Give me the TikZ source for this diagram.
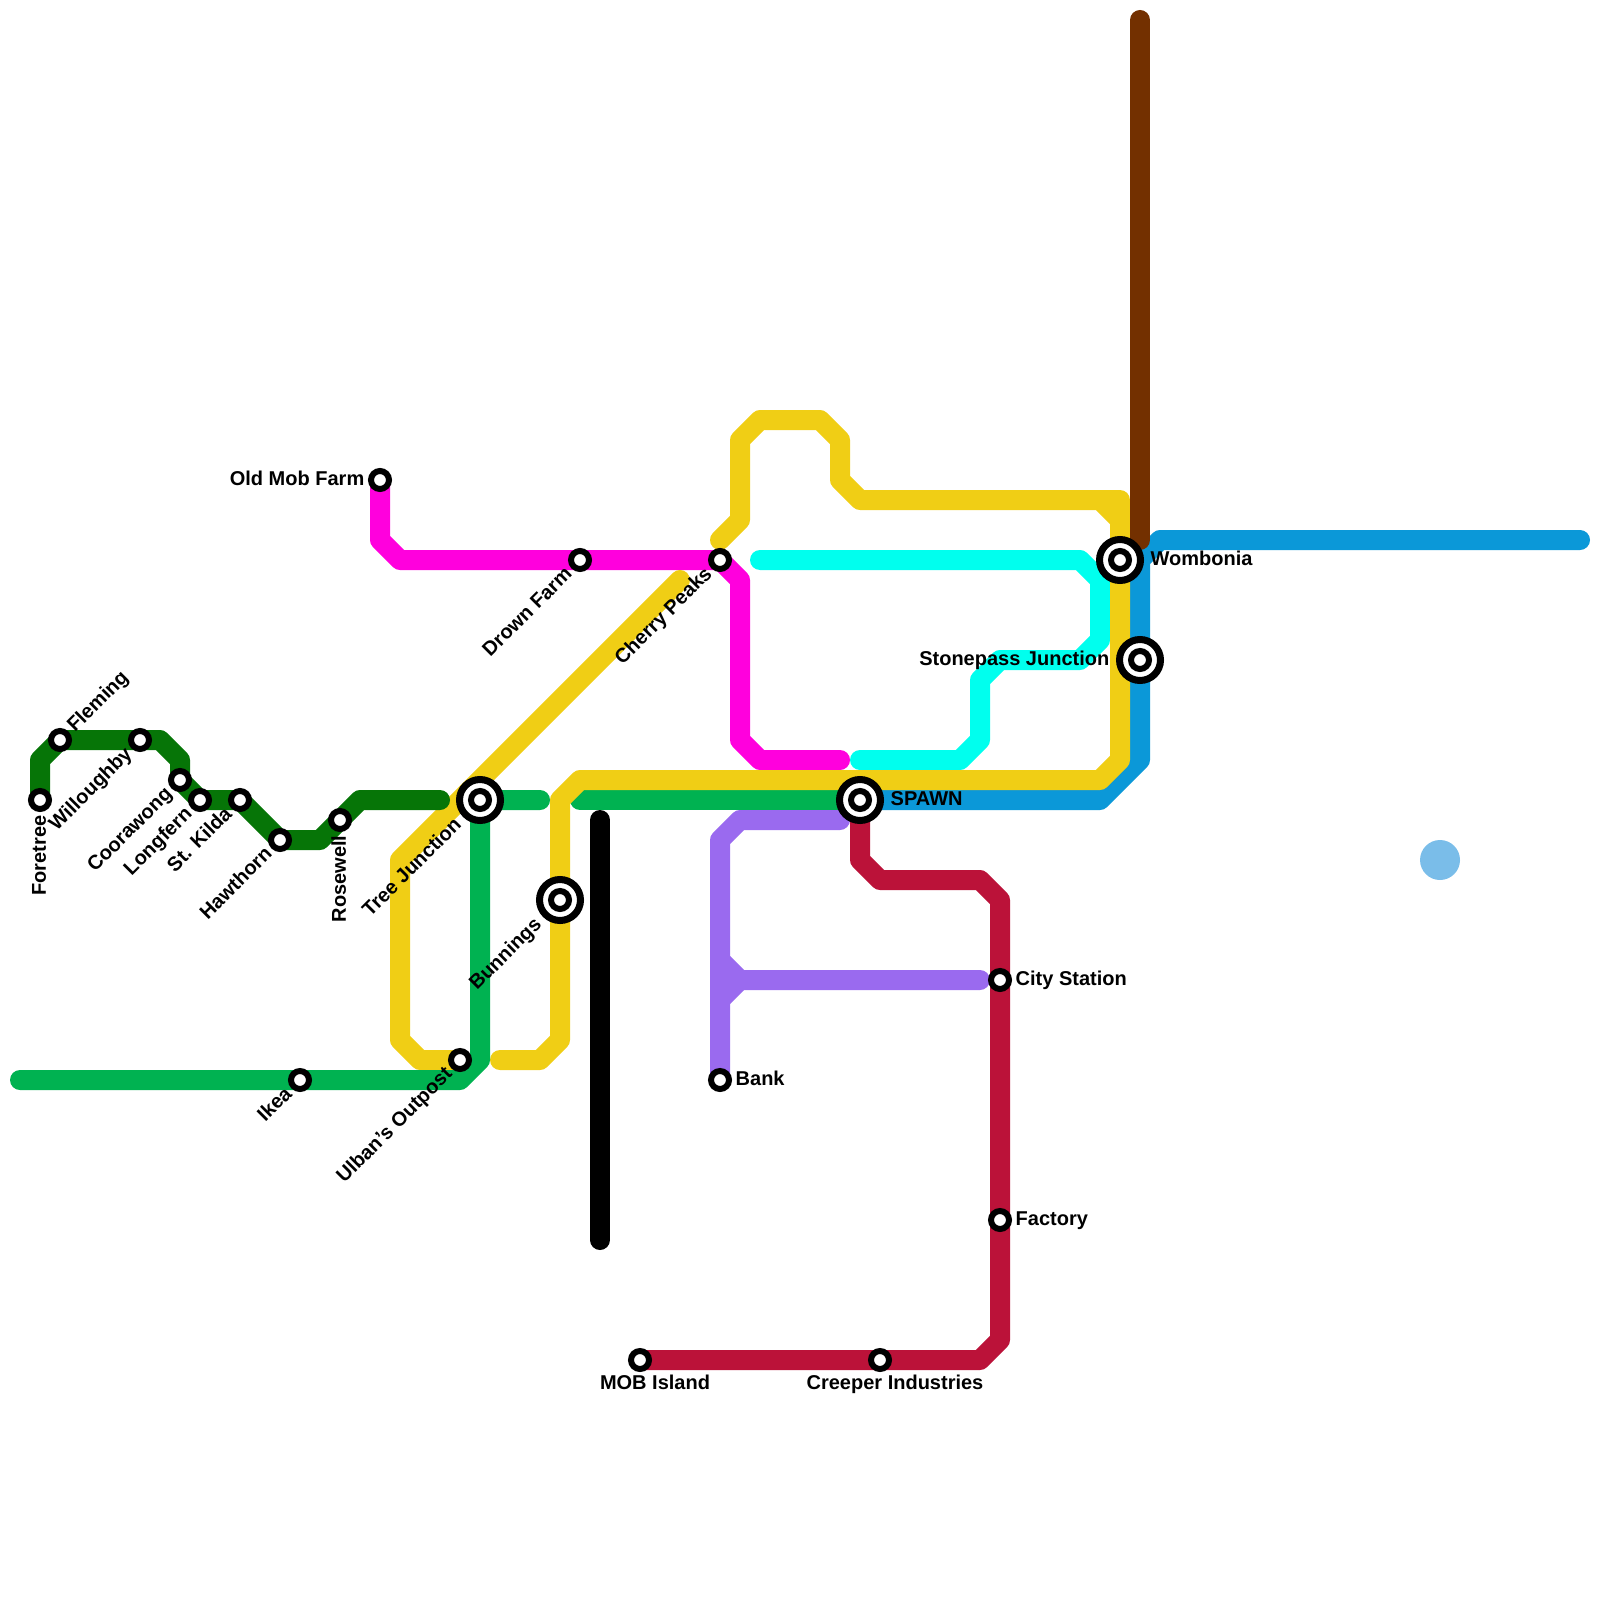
\documentclass[tikz,border=0pt]{standalone}
\usepackage{fontspec}
\setmainfont{Liberation Sans}
\usetikzlibrary{backgrounds}
\definecolor{darkgreenline}{HTML}{067507}
\definecolor{greenline}{HTML}{00B251}
\definecolor{yellowline}{HTML}{F0CE15}
\definecolor{magentaline}{HTML}{FF00DD}
\definecolor{cyanline}{HTML}{00FFEE}
\definecolor{purpleline}{HTML}{9A6AEF}
\definecolor{blueline}{HTML}{0B98D8}
\definecolor{crimsonline}{HTML}{BB1239}
\definecolor{brownline}{HTML}{733000}
\definecolor{pondblue}{HTML}{7ABDE9}
\tikzset{
  metro/.style={line width=2mm,line cap=round,line join=round},
  stopm/.style={circle,draw=black,fill=white,line width=.6mm,minimum size=1.8mm,inner sep=0pt},
  hub/.style={circle,draw=black,fill=white,line width=.7mm,minimum size=4.1mm,inner sep=0pt,
    path picture={\draw[line width=.6mm] (path picture bounding box.center) circle (.9mm);}},
  tag/.style={inner sep=0pt,text height=1.15mm,text depth=0mm,font=\fontsize{5.69}{7}\selectfont\bfseries}
}
\begin{document}
\begin{tikzpicture}[x=2mm,y=-2mm]
  \useasboundingbox (0,0) rectangle (80,80);
  % stations
  \node[stopm] (foretree) at (2,40) {};
  \node[stopm] (fleming) at (3,37) {};
  \node[stopm] (willoughby) at (7,37) {};
  \node[stopm] (coorawong) at (9,39) {};
  \node[stopm] (longfern) at (10,40) {};
  \node[stopm] (stkilda) at (12,40) {};
  \node[stopm] (hawthorn) at (14,42) {};
  \node[stopm] (rosewell) at (17,41) {};
  \node[stopm] (ikea) at (15,54) {};
  \node[stopm] (ulban) at (23,53) {};
  \node[hub] (tree) at (24,40) {};
  \node[hub] (bunnings) at (28,45) {};
  \node[stopm] (oldmob) at (19,24) {};
  \node[stopm] (drown) at (29,28) {};
  \node[stopm] (cherry) at (36,28) {};
  \node[stopm] (bank) at (36,54) {};
  \node[hub] (spawn) at (43,40) {};
  \node[stopm] (city) at (50,49) {};
  \node[stopm] (factory) at (50,61) {};
  \node[stopm] (mob) at (32,68) {};
  \node[stopm] (creeper) at (44,68) {};
  \node[hub] (wombonia) at (56,28) {};
  \node[hub] (stonepass) at (57,33) {};
  % free line ends
  \coordinate (darkgreenend) at (22,40);
  \coordinate (greenwest) at (1,54);
  \coordinate (greeneast) at (27,40);
  \coordinate (greenmid) at (29,40);
  \coordinate (yellowsouth) at (25,53);
  \coordinate (yellowtop) at (36,27);
  \coordinate (yellowdiag) at (34,29);
  \coordinate (magentaend) at (42,38);
  \coordinate (cyansouth) at (43,38);
  \coordinate (cyannorth) at (38,28);
  \coordinate (purpletop) at (42,41);
  \coordinate (purplemid) at (49,49);
  \coordinate (blueeast) at (79,27);
  \coordinate (browntop) at (57,1);
  \coordinate (brownend) at (57,27);
  \coordinate (blacktop) at (30,41);
  \coordinate (blackend) at (30,62);
  % lines
  \begin{scope}[on background layer]
    \draw[metro,magentaline] (oldmob.center) -- (19,27) -- (20,28) -- (drown.center) -- (cherry.center) -- (37,29) -- (37,37) -- (38,38) -- (magentaend);
    \draw[metro,cyanline] (cyansouth) -- (48,38) -- (49,37) -- (49,34) -- (50,33) -- (54,33) -- (55,32) -- (55,29) -- (54,28) -- (cyannorth);
    \draw[metro,purpleline] (bank.center) -- (36,42) -- (37,41) -- (purpletop);
    \draw[metro,purpleline] (36,48) -- (37,49) -- (purplemid);
    \draw[metro,purpleline] (36,50) -- (37,49);
    \draw[metro,crimsonline] (spawn.center) -- (43,43) -- (44,44) -- (49,44) -- (50,45) -- (city.center) -- (factory.center) -- (50,67) -- (49,68) -- (creeper.center) -- (mob.center);
    \draw[metro,blueline] (spawn.center) -- (55,40) -- (57,38) -- (stonepass.center) -- (57,28) -- (58,27) -- (blueeast);
    \draw[metro,greenline] (greenmid) -- (spawn.center);
    \draw[metro,yellowline] (yellowsouth) -- (27,53) -- (28,52) -- (bunnings.center) -- (28,40) -- (29,39) -- (55,39) -- (56,38) -- (wombonia.center) -- (56,26) -- (55,25) -- (43,25) -- (42,24) -- (42,22) -- (41,21) -- (38,21) -- (37,22) -- (37,26) -- (yellowtop);
    \draw[metro,yellowline] (56,26) -- (56,25) -- (55,25);
    \draw[metro,yellowline] (yellowdiag) -- (20,43) -- (20,52) -- (21,53) -- (ulban.center);
    \draw[metro,greenline] (greenwest) -- (ikea.center) -- (23,54) -- (24,53) -- (tree.center) -- (greeneast);
    \draw[metro,darkgreenline] (foretree.center) -- (2,38) -- (fleming.center) -- (willoughby.center) -- (8,37) -- (9,38) -- (coorawong.center) -- (longfern.center) -- (stkilda.center) -- (hawthorn.center) -- (16,42) -- (rosewell.center) -- (18,40) -- (darkgreenend);
    \draw[metro,brownline] (browntop) -- (brownend);
    \draw[metro,black] (blacktop) -- (blackend);
  \end{scope}
  \node[circle,fill=pondblue,minimum size=4mm,inner sep=0pt] (pond) at (72,43) {};
  % labels
  \node[tag,rotate=90,anchor=east] (foretree-t) at ([shift={(-90:1.5mm)}]foretree.center) {Foretree};
  \node[tag,rotate=45,anchor=west] (fleming-t) at ([shift={(45:1.5mm)}]fleming.center) {Fleming};
  \node[tag,rotate=45,anchor=east] (willoughby-t) at ([shift={(225:1.5mm)}]willoughby.center) {Willoughby};
  \node[tag,rotate=45,anchor=east] (coorawong-t) at ([shift={(225:1.5mm)}]coorawong.center) {Coorawong};
  \node[tag,rotate=45,anchor=east] (longfern-t) at ([shift={(225:1.5mm)}]longfern.center) {Longfern};
  \node[tag,rotate=45,anchor=east] (stkilda-t) at ([shift={(225:1.5mm)}]stkilda.center) {St. Kilda};
  \node[tag,rotate=45,anchor=east] (hawthorn-t) at ([shift={(225:1.5mm)}]hawthorn.center) {Hawthorn};
  \node[tag,rotate=90,anchor=east] (rosewell-t) at ([shift={(-90:1.5mm)}]rosewell.center) {Rosewell};
  \node[tag,rotate=45,anchor=east] (ikea-t) at ([shift={(225:1.5mm)}]ikea.center) {Ikea};
  \node[tag,rotate=45,anchor=east] (ulban-t) at ([shift={(225:1.5mm)}]ulban.center) {Ulban's Outpost};
  \node[tag,rotate=45,anchor=east] (tree-t) at ([shift={(225:3mm)}]tree.center) {Tree Junction};
  \node[tag,rotate=45,anchor=east] (bunnings-t) at ([shift={(225:3mm)}]bunnings.center) {Bunnings};
  \node[tag,anchor=east] (oldmob-t) at ([shift={(180:1.5mm)}]oldmob.center) {Old Mob Farm};
  \node[tag,rotate=45,anchor=east] (drown-t) at ([shift={(225:1.5mm)}]drown.center) {Drown Farm};
  \node[tag,rotate=45,anchor=east] (cherry-t) at ([shift={(225:1.5mm)}]cherry.center) {Cherry Peaks};
  \node[tag,anchor=west] (bank-t) at ([shift={(0:1.5mm)}]bank.center) {Bank};
  \node[tag,anchor=west] (spawn-t) at ([shift={(0:3mm)}]spawn.center) {SPAWN};
  \node[tag,anchor=west] (city-t) at ([shift={(0:1.5mm)}]city.center) {City Station};
  \node[tag,anchor=west] (factory-t) at ([shift={(0:1.5mm)}]factory.center) {Factory};
  \node[tag] (mob-t) at ([shift={(1.5mm,-2.42mm)}]mob.center) {MOB Island};
  \node[tag] (creeper-t) at ([shift={(1.5mm,-2.42mm)}]creeper.center) {Creeper Industries};
  \node[tag,anchor=west] (wombonia-t) at ([shift={(0:3mm)}]wombonia.center) {Wombonia};
  \node[tag,anchor=east] (stonepass-t) at ([shift={(180:3mm)}]stonepass.center) {Stonepass Junction};
\end{tikzpicture}
\end{document}
